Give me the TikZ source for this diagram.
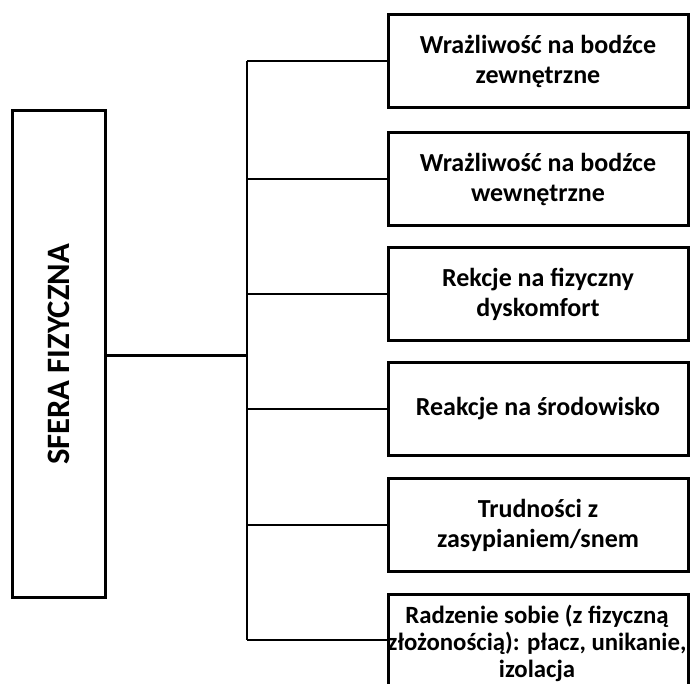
\documentclass[tikz,border=0pt]{standalone}
\usepackage{fontspec}
\setmainfont{Carlito}
\begin{document}
\begin{tikzpicture}[x=0.75pt,y=-0.75pt,
  box/.style={draw=black, line width=2.25pt, minimum width=225pt, minimum height=69.75pt, inner sep=0pt, align=center, font=\bfseries\fontsize{19.5}{22.5}\selectfont},
  conn/.style={draw=black, line width=1.5pt}]
\useasboundingbox (0,0) rectangle (690,684);
\clip (0,0) rectangle (690,684);
\node[draw=black, line width=2.25pt, minimum width=69.75pt, minimum height=365.25pt, inner sep=0pt] (L) at (58.5,354.5) {};
\node[rotate=90, font=\bfseries\fontsize{24.5}{28}\selectfont] (Lt) at (L.center) {SFERA FIZYCZNA};
\node[box] (b1) at (538,61) {Wrażliwość na bodźce\\zewnętrzne};
\node[box] (b2) at (538,179.5) {Wrażliwość na bodźce\\wewnętrzne};
\node[box] (b3) at (538,294) {Rekcje na fizyczny\\dyskomfort};
\node[box] (b4) at (538,409) {Reakcje na środowisko};
\node[box] (b5) at (538,525.5) {Trudności z\\zasypianiem/snem};
\node[box, minimum height=67.5pt] (b6) at (538,640) {};
\node[align=center, inner sep=0pt, font=\bfseries\fontsize{18.6}{20.2}\selectfont] (b6t) at (537,643) {Radzenie sobie (z fizyczną\\złożonością): płacz, unikanie,\\izolacja};
\coordinate (top) at (247,61);
\coordinate (bot) at (247,640);
\draw[conn] (top) -- (bot);
\draw[draw=black, line width=2.25pt] (L.east |- 0,356) -- (247,356);
\foreach \b in {b1,b2,b3,b4,b5,b6} {\draw[conn] (\b.west) -- (\b.west -| top);}
\end{tikzpicture}
\end{document}
